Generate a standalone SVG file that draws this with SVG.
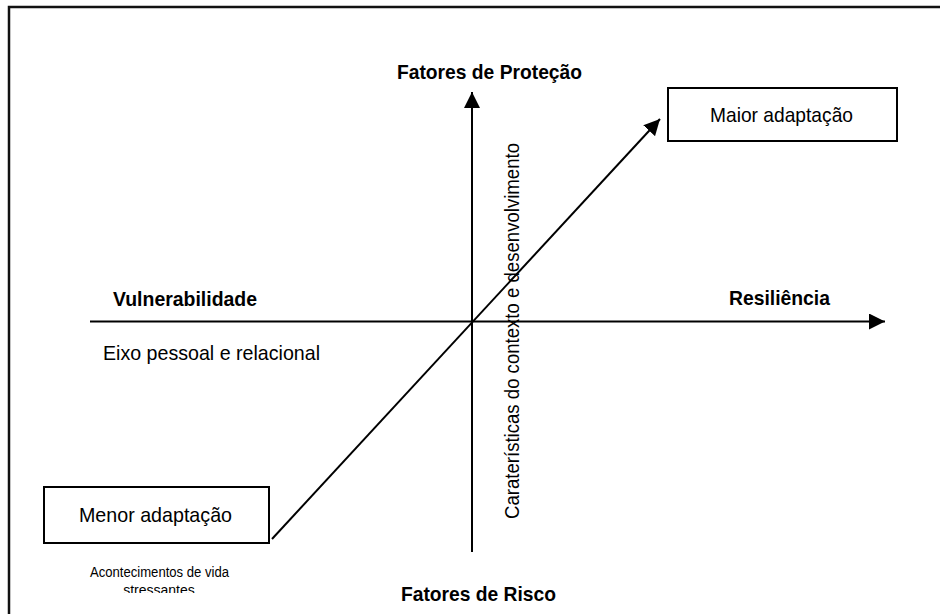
<svg xmlns="http://www.w3.org/2000/svg" width="940" height="614" viewBox="0 0 940 614">
<style>
text{font-family:"Liberation Sans",Arial,sans-serif;fill:#000}
.b{font-weight:bold;font-size:21px}
.r{font-size:21px}
.s{font-size:14px}
.ln{stroke:#000;stroke-width:2;fill:none}
.box{fill:#fff;stroke:#000;stroke-width:2}
</style>
<defs>
<marker id="ah" viewBox="0 0 10 10" refX="10" refY="5" markerWidth="16" markerHeight="16" markerUnits="userSpaceOnUse" orient="auto">
<path d="M0,0 L10,5 L0,10 z" fill="#000"/>
</marker>
<clipPath id="clipS"><rect x="40" y="560" width="260" height="33"/></clipPath>
</defs>
<rect width="940" height="614" fill="#fff"/>
<path d="M9,614 V7 H940" fill="none" stroke="#111" stroke-width="2.5"/>
<g id="connectors">
<line class="ln" x1="90" y1="321.5" x2="885" y2="321.5" marker-end="url(#ah)"/>
<line class="ln" x1="472" y1="552" x2="472" y2="92" marker-end="url(#ah)"/>
<line class="ln" x1="272" y1="539" x2="660" y2="119" marker-end="url(#ah)"/>
</g>
<g id="label-protecao"><text class="b" x="397" y="79" textLength="185" lengthAdjust="spacingAndGlyphs">Fatores de Proteção</text></g>
<g id="label-risco"><text class="b" x="401" y="601" textLength="155" lengthAdjust="spacingAndGlyphs">Fatores de Risco</text></g>
<g id="label-vulnerabilidade"><text class="b" x="113" y="306" textLength="144" lengthAdjust="spacingAndGlyphs">Vulnerabilidade</text></g>
<g id="label-resiliencia"><text class="b" x="729" y="305" textLength="101" lengthAdjust="spacingAndGlyphs">Resiliência</text></g>
<g id="label-eixo"><text class="r" x="103" y="360" textLength="217" lengthAdjust="spacingAndGlyphs">Eixo pessoal e relacional</text></g>
<g id="label-caracteristicas"><text class="r" transform="translate(519,519) rotate(-90)" textLength="376" lengthAdjust="spacingAndGlyphs">Caraterísticas do contexto e desenvolvimento</text></g>
<g id="node-maior">
<rect class="box" x="668" y="88" width="229" height="53"/>
<text class="r" x="710" y="122" textLength="143" lengthAdjust="spacingAndGlyphs">Maior adaptação</text>
</g>
<g id="node-menor">
<rect class="box" x="44" y="487" width="225" height="56"/>
<text class="r" x="79" y="522" textLength="153" lengthAdjust="spacingAndGlyphs">Menor adaptação</text>
</g>
<g id="label-acontecimentos" clip-path="url(#clipS)">
<text class="s" x="90" y="577" textLength="139" lengthAdjust="spacingAndGlyphs">Acontecimentos de vida</text>
<text class="s" x="159" y="595" text-anchor="middle">stressantes</text>
</g>
</svg>
